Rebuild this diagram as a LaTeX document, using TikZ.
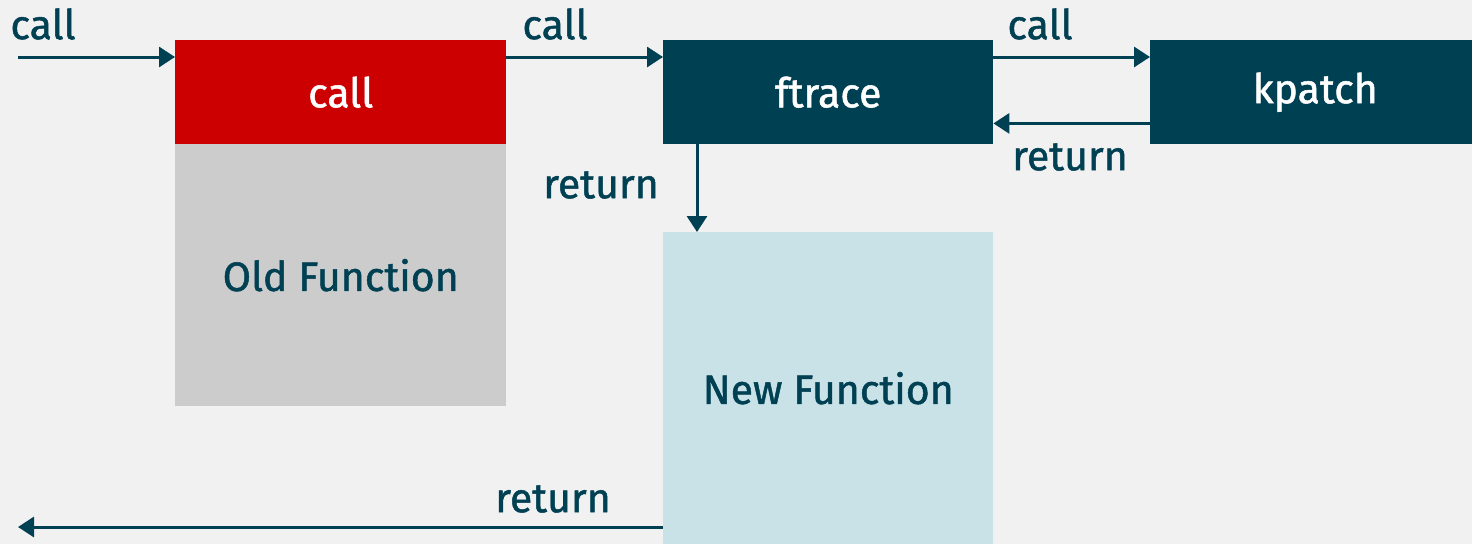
\documentclass[tikz,border=0pt]{standalone}
\usepackage{fontspec}
\setmainfont{Fira Sans}[FakeBold=1.2]
\usetikzlibrary{arrows.meta}
\definecolor{bg}{HTML}{F1F1F1}
\definecolor{dteal}{HTML}{004053}
\definecolor{rhred}{HTML}{CC0000}
\definecolor{lgrey}{HTML}{CCCCCC}
\definecolor{lblue}{HTML}{C9E2E8}
\tikzset{
  box/.style={draw=none, inner sep=0pt, minimum width=331pt, anchor=north west,
    font=\fontsize{41}{48}\selectfont},
  lbl/.style={text=dteal, inner sep=0pt, font=\fontsize{41}{48}\selectfont},
  conn/.style={draw=dteal, line width=3pt, -{Triangle[length=16pt,width=20pt]}},
}
\begin{document}
\begin{tikzpicture}[x=1pt,y=-1pt]
\useasboundingbox[fill=bg] (0,0) rectangle (1472,544);
\node[box, fill=rhred, minimum height=104pt, text=white] (callbox) at (175,40) {call};
\node[box, fill=lgrey, minimum height=262pt, text=dteal] (old) at (175,144) {Old Function};
\node[box, fill=dteal, minimum height=104pt, minimum width=330pt, text=white] (ftrace) at (663,40) {ftrace};
\node[box, fill=dteal, minimum height=104pt, minimum width=322pt, text=white] (kpatch) at (1150,40) {\hspace*{8pt}kpatch};
\node[box, fill=lblue, minimum height=312pt, minimum width=330pt, text=dteal] (new) at (663,232) {New Function};
\coordinate (start) at (18,57);
\coordinate (end) at (18,527);
\draw[conn] (start) -- (start -| callbox.west);
\draw[conn] ([yshift=-17pt]callbox.north east) -- ([yshift=-17pt]ftrace.north west);
\draw[conn] ([yshift=-17pt]ftrace.north east) -- ([yshift=-17pt]kpatch.north west);
\draw[conn] ([yshift=21pt]kpatch.south west) -- ([yshift=21pt]ftrace.south east);
\draw[conn] ([xshift=34pt]ftrace.south west) -- ([xshift=34pt]new.north west);
\draw[conn] (new.west |- end) -- (end);
\node[lbl] (l1) at (43,24) {call};
\node[lbl] (l2) at (555,24) {call};
\node[lbl] (l3) at (1040,24) {call};
\node[lbl] (l4) at (1070,157) {return};
\node[lbl] (l5) at (601,185) {return};
\node[lbl] (l6) at (553,499) {return};
\end{tikzpicture}
\end{document}
